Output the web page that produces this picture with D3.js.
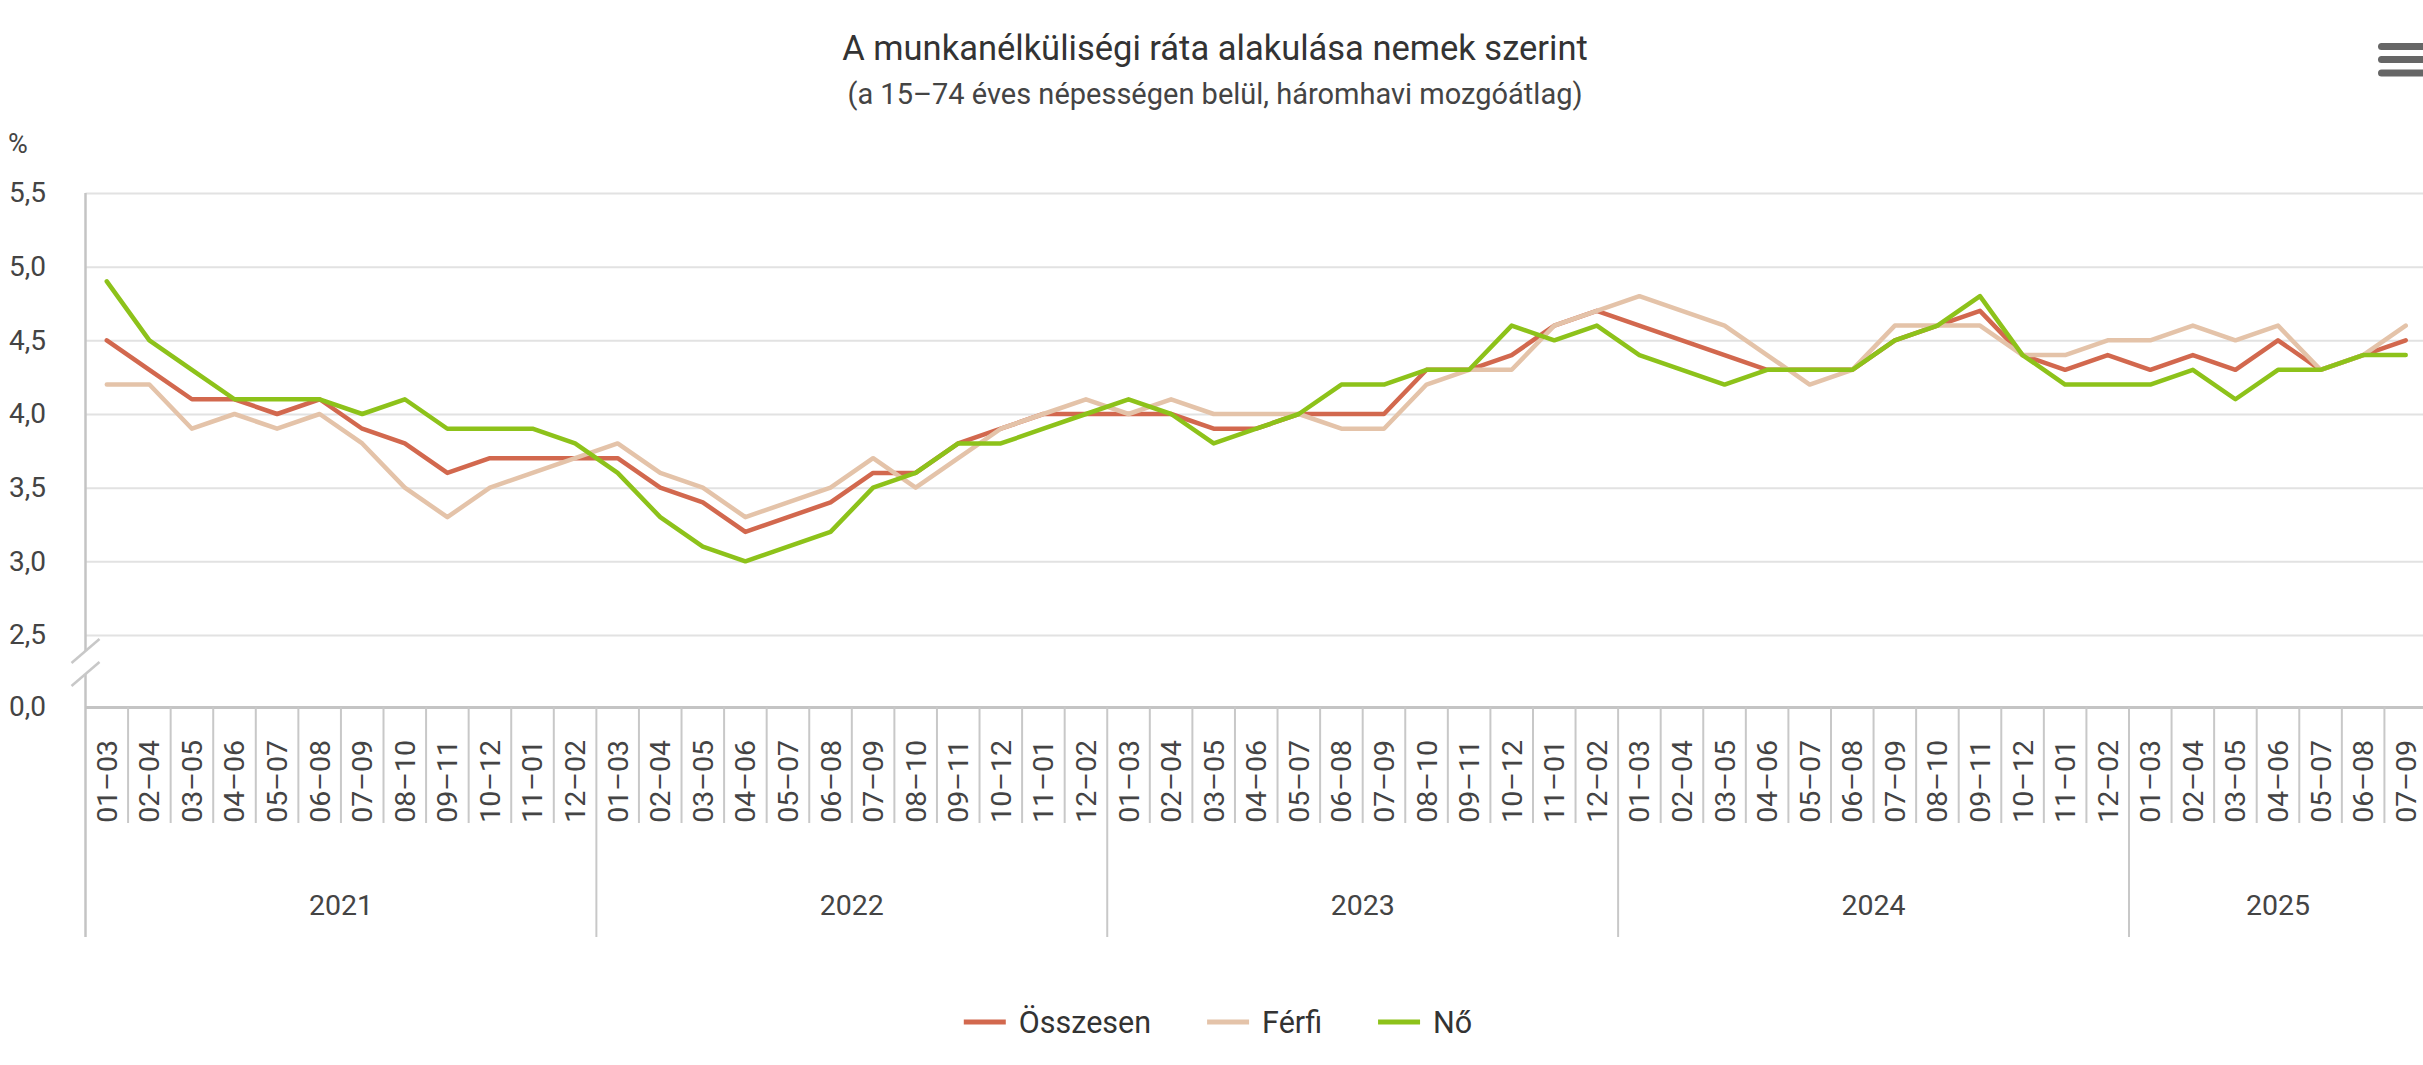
<!DOCTYPE html>
<html lang="hu">
<head>
<meta charset="utf-8">
<title>A munkanélküliségi ráta alakulása nemek szerint</title>
<script src="https://cdn.jsdelivr.net/npm/d3@7"></script>
<style>
  html, body { margin: 0; padding: 0; background: #ffffff; }
  svg { display: block; font-family: Roboto, "Noto Sans", sans-serif; }
</style>
</head>
<body>
<svg id="chart" width="2423" height="1065"></svg>
<script>
// Időszakok (háromhavi mozgóátlag) és évek
const years = ["2021", "2022", "2023", "2024", "2025"];
const periods = ["01–03", "02–04", "03–05", "04–06", "05–07", "06–08",
                 "07–09", "08–10", "09–11", "10–12", "11–01", "12–02"];
const periodsPerYear = [12, 12, 12, 12, 7];

// Munkanélküliségi ráta, %
const osszesen = [
  4.5, 4.3, 4.1, 4.1, 4.0, 4.1, 3.9, 3.8, 3.6, 3.7, 3.7, 3.7,
  3.7, 3.5, 3.4, 3.2, 3.3, 3.4, 3.6, 3.6, 3.8, 3.9, 4.0, 4.0,
  4.0, 4.0, 3.9, 3.9, 4.0, 4.0, 4.0, 4.3, 4.3, 4.4, 4.6, 4.7,
  4.6, 4.5, 4.4, 4.3, 4.3, 4.3, 4.5, 4.6, 4.7, 4.4, 4.3, 4.4,
  4.3, 4.4, 4.3, 4.5, 4.3, 4.4, 4.5
];
const ferfi = [
  4.2, 4.2, 3.9, 4.0, 3.9, 4.0, 3.8, 3.5, 3.3, 3.5, 3.6, 3.7,
  3.8, 3.6, 3.5, 3.3, 3.4, 3.5, 3.7, 3.5, 3.7, 3.9, 4.0, 4.1,
  4.0, 4.1, 4.0, 4.0, 4.0, 3.9, 3.9, 4.2, 4.3, 4.3, 4.6, 4.7,
  4.8, 4.7, 4.6, 4.4, 4.2, 4.3, 4.6, 4.6, 4.6, 4.4, 4.4, 4.5,
  4.5, 4.6, 4.5, 4.6, 4.3, 4.4, 4.6
];
const no = [
  4.9, 4.5, 4.3, 4.1, 4.1, 4.1, 4.0, 4.1, 3.9, 3.9, 3.9, 3.8,
  3.6, 3.3, 3.1, 3.0, 3.1, 3.2, 3.5, 3.6, 3.8, 3.8, 3.9, 4.0,
  4.1, 4.0, 3.8, 3.9, 4.0, 4.2, 4.2, 4.3, 4.3, 4.6, 4.5, 4.6,
  4.4, 4.3, 4.2, 4.3, 4.3, 4.3, 4.5, 4.6, 4.8, 4.4, 4.2, 4.2,
  4.2, 4.3, 4.1, 4.3, 4.3, 4.4, 4.4
];
const yTicks = [0, 2.5, 3.0, 3.5, 4.0, 4.5, 5.0, 5.5];

const seriesNames = ["Összesen", "Férfi", "Nő"];
const seriesColors = ["#d2684e", "#e4c3a9", "#8dc21a"];

// Kategóriák: minden időszak az évével együtt
const categories = [];
years.forEach((yr, yi) => {
  for (let k = 0; k < periodsPerYear[yi]; k++) {
    categories.push({ year: yr, period: periods[k], first: k === 0 });
  }
});

const W = 2423, H = 1065;
const plotLeft = 85.5, plotRight = 2427;
const axisY = 707;

const svg = d3.select("#chart");
svg.append("rect").attr("width", W).attr("height", H).attr("fill", "#ffffff");

const x = d3.scaleBand()
  .domain(d3.range(categories.length))
  .range([plotLeft, plotRight])
  .padding(0);

// Törött tengely: 0 és 2,5 között összenyomott szakasz
const y = d3.scaleLinear()
  .domain([0, 2.5, 5.5])
  .range([axisY, 635, 193]);

const fmt = v => d3.format(".1f")(v).replace(".", ",");

// Címek
svg.append("text")
  .attr("x", 1215).attr("y", 60)
  .attr("text-anchor", "middle")
  .attr("font-size", 34.5).attr("fill", "#333333")
  .text("A munkanélküliségi ráta alakulása nemek szerint");
svg.append("text")
  .attr("x", 1215).attr("y", 104)
  .attr("text-anchor", "middle")
  .attr("font-size", 29).attr("fill", "#444444")
  .text("(a 15–74 éves népességen belül, háromhavi mozgóátlag)");

// Menü ikon
const menu = svg.append("g").attr("fill", "#666666");
[43, 56, 69.5].forEach(yy => {
  menu.append("rect").attr("x", 2378).attr("y", yy)
    .attr("width", 52).attr("height", 7).attr("rx", 3.5);
});

// Y tengely: rácsvonalak és feliratok
const yAxis = svg.append("g")
  .attr("transform", `translate(${plotLeft},0)`)
  .call(d3.axisLeft(y)
    .tickValues(yTicks)
    .tickSize(-(plotRight - plotLeft))
    .tickPadding(39.5)
    .tickFormat(fmt));
yAxis.select(".domain").remove();
yAxis.selectAll(".tick line")
  .attr("stroke", d => d === 0 ? "#c4c4c4" : "#e2e2e2")
  .attr("stroke-width", d => d === 0 ? 3 : 2);
yAxis.selectAll(".tick text")
  .attr("font-family", "Roboto, sans-serif")
  .attr("font-size", 28)
  .attr("fill", "#444444");

svg.append("text")
  .attr("x", 8).attr("y", 153)
  .attr("font-size", 27).attr("fill", "#444444")
  .text("%");

// Függőleges tengelyvonal a töréssel
const breakTop = y(2.5) + 16, breakBottom = y(2.5) + 39;
svg.append("line")
  .attr("x1", plotLeft).attr("x2", plotLeft)
  .attr("y1", y(5.5)).attr("y2", breakTop)
  .attr("stroke", "#c4c4c4").attr("stroke-width", 2.5);
svg.append("line")
  .attr("x1", plotLeft).attr("x2", plotLeft)
  .attr("y1", breakBottom).attr("y2", 937)
  .attr("stroke", "#c4c4c4").attr("stroke-width", 2.5);
[breakTop, breakBottom].forEach(by => {
  svg.append("line")
    .attr("x1", plotLeft - 14).attr("y1", by + 12)
    .attr("x2", plotLeft + 14).attr("y2", by - 12)
    .attr("stroke", "#c8c8c8").attr("stroke-width", 2.5);
});

// X tengely: időszak-határok, évhatárok, feliratok
const xg = svg.append("g");
categories.forEach((c, i) => {
  if (i === 0) return;
  xg.append("line")
    .attr("x1", x(i)).attr("x2", x(i))
    .attr("y1", axisY).attr("y2", c.first ? 937 : 823)
    .attr("stroke", "#c8c8c8").attr("stroke-width", 2);
});
xg.append("line")
  .attr("x1", plotRight).attr("x2", plotRight)
  .attr("y1", axisY).attr("y2", 937)
  .attr("stroke", "#c8c8c8").attr("stroke-width", 2);

xg.selectAll("text.period")
  .data(categories)
  .join("text")
  .attr("class", "period")
  .attr("transform", (d, i) => `translate(${x(i) + x.bandwidth() / 2},740) rotate(-90)`)
  .attr("text-anchor", "end")
  .attr("dy", "0.35em")
  .attr("font-size", 28.5)
  .attr("fill", "#444444")
  .text(d => d.period);

let start = 0;
years.forEach((yr, yi) => {
  const end = start + periodsPerYear[yi] - 1;
  const cx = (x(start) + x(end) + x.bandwidth()) / 2;
  xg.append("text")
    .attr("x", cx).attr("y", 915)
    .attr("text-anchor", "middle")
    .attr("font-size", 28.5)
    .attr("fill", "#444444")
    .text(yr);
  start = end + 1;
});

// Vonalak
const line = d3.line()
  .x((d, i) => x(i) + x.bandwidth() / 2)
  .y(d => y(d));

[osszesen, ferfi, no].forEach((vals, si) => {
  svg.append("path")
    .datum(vals)
    .attr("fill", "none")
    .attr("stroke", seriesColors[si])
    .attr("stroke-width", 4.5)
    .attr("stroke-linejoin", "round")
    .attr("stroke-linecap", "round")
    .attr("d", line);
});

// Jelmagyarázat
const legend = svg.append("g");
const symW = 42, symGap = 13, itemGap = 56, legendY = 1022;
let lx = 0;
const items = seriesNames.map((name, si) => {
  const g = legend.append("g");
  g.append("line")
    .attr("x1", 0).attr("x2", symW)
    .attr("y1", 0).attr("y2", 0)
    .attr("stroke", seriesColors[si]).attr("stroke-width", 5);
  const t = g.append("text")
    .attr("x", symW + symGap).attr("y", 0)
    .attr("dy", "0.35em")
    .attr("font-size", 30.5)
    .attr("fill", "#333333")
    .text(name);
  const w = symW + symGap + t.node().getComputedTextLength();
  g.attr("transform", `translate(${lx},0)`);
  lx += w + itemGap;
  return w;
});
const legendW = lx - itemGap;
legend.attr("transform", `translate(${1218 - legendW / 2},${legendY})`);
</script>
</body>
</html>
